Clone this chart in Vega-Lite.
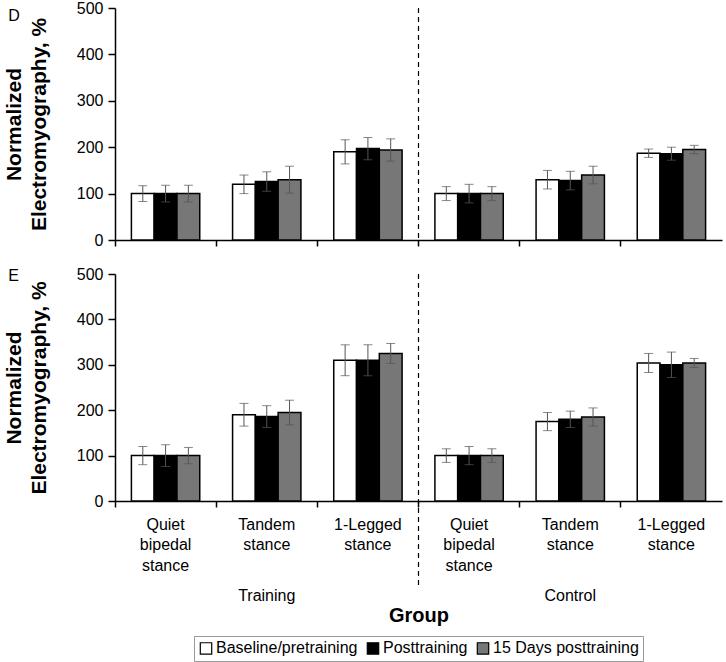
{
  "$schema": "https://vega.github.io/schema/vega-lite/v6.json",
  "padding": {"left": 3, "top": 0, "right": 3, "bottom": 0},
  "background": "white",
  "config": {
    "font": "Liberation Sans",
    "view": {"stroke": null},
    "axis": {"domainColor": "black", "tickColor": "black", "labelColor": "black", "titleColor": "black", "labelFontSize": 16, "labelFont": "Liberation Sans", "titleFont": "Liberation Sans", "grid": false, "domainWidth": 1.5, "tickWidth": 1.5},
    "concat": {"spacing": 18},
    "legend": {"labelFont": "Liberation Sans", "layout": {"bottom": {"anchor": "middle"}}}
  },
  "datasets": {
    "D": [
      {"cond": "Training|Quiet bipedal stance", "phase": "Baseline/pretraining", "value": 100, "lo": 83, "hi": 117},
      {"cond": "Training|Quiet bipedal stance", "phase": "Posttraining", "value": 100, "lo": 82, "hi": 118},
      {"cond": "Training|Quiet bipedal stance", "phase": "15 Days posttraining", "value": 100, "lo": 82, "hi": 118},
      {"cond": "Training|Tandem stance", "phase": "Baseline/pretraining", "value": 120, "lo": 100, "hi": 140},
      {"cond": "Training|Tandem stance", "phase": "Posttraining", "value": 126, "lo": 105, "hi": 147},
      {"cond": "Training|Tandem stance", "phase": "15 Days posttraining", "value": 130, "lo": 101, "hi": 159},
      {"cond": "Training|1-Legged stance", "phase": "Baseline/pretraining", "value": 190, "lo": 164, "hi": 216},
      {"cond": "Training|1-Legged stance", "phase": "Posttraining", "value": 197, "lo": 173, "hi": 221},
      {"cond": "Training|1-Legged stance", "phase": "15 Days posttraining", "value": 194, "lo": 170, "hi": 218},
      {"cond": "Control|Quiet bipedal stance", "phase": "Baseline/pretraining", "value": 100, "lo": 85, "hi": 115},
      {"cond": "Control|Quiet bipedal stance", "phase": "Posttraining", "value": 100, "lo": 80, "hi": 120},
      {"cond": "Control|Quiet bipedal stance", "phase": "15 Days posttraining", "value": 100, "lo": 85, "hi": 115},
      {"cond": "Control|Tandem stance", "phase": "Baseline/pretraining", "value": 130, "lo": 110, "hi": 150},
      {"cond": "Control|Tandem stance", "phase": "Posttraining", "value": 128, "lo": 108, "hi": 148},
      {"cond": "Control|Tandem stance", "phase": "15 Days posttraining", "value": 140, "lo": 121, "hi": 159},
      {"cond": "Control|1-Legged stance", "phase": "Baseline/pretraining", "value": 187, "lo": 178, "hi": 196},
      {"cond": "Control|1-Legged stance", "phase": "Posttraining", "value": 186, "lo": 172, "hi": 200},
      {"cond": "Control|1-Legged stance", "phase": "15 Days posttraining", "value": 195, "lo": 186, "hi": 204}
    ],
    "E": [
      {"cond": "Training|Quiet bipedal stance", "phase": "Baseline/pretraining", "value": 100, "lo": 80, "hi": 120},
      {"cond": "Training|Quiet bipedal stance", "phase": "Posttraining", "value": 100, "lo": 76, "hi": 124},
      {"cond": "Training|Quiet bipedal stance", "phase": "15 Days posttraining", "value": 100, "lo": 82, "hi": 118},
      {"cond": "Training|Tandem stance", "phase": "Baseline/pretraining", "value": 190, "lo": 165, "hi": 215},
      {"cond": "Training|Tandem stance", "phase": "Posttraining", "value": 186, "lo": 162, "hi": 210},
      {"cond": "Training|Tandem stance", "phase": "15 Days posttraining", "value": 195, "lo": 168, "hi": 222},
      {"cond": "Training|1-Legged stance", "phase": "Baseline/pretraining", "value": 310, "lo": 276, "hi": 344},
      {"cond": "Training|1-Legged stance", "phase": "Posttraining", "value": 310, "lo": 276, "hi": 344},
      {"cond": "Training|1-Legged stance", "phase": "15 Days posttraining", "value": 325, "lo": 303, "hi": 347},
      {"cond": "Control|Quiet bipedal stance", "phase": "Baseline/pretraining", "value": 100, "lo": 85, "hi": 115},
      {"cond": "Control|Quiet bipedal stance", "phase": "Posttraining", "value": 100, "lo": 80, "hi": 120},
      {"cond": "Control|Quiet bipedal stance", "phase": "15 Days posttraining", "value": 100, "lo": 85, "hi": 115},
      {"cond": "Control|Tandem stance", "phase": "Baseline/pretraining", "value": 175, "lo": 155, "hi": 195},
      {"cond": "Control|Tandem stance", "phase": "Posttraining", "value": 180, "lo": 162, "hi": 198},
      {"cond": "Control|Tandem stance", "phase": "15 Days posttraining", "value": 185, "lo": 165, "hi": 205},
      {"cond": "Control|1-Legged stance", "phase": "Baseline/pretraining", "value": 304, "lo": 283, "hi": 325},
      {"cond": "Control|1-Legged stance", "phase": "Posttraining", "value": 300, "lo": 272, "hi": 328},
      {"cond": "Control|1-Legged stance", "phase": "15 Days posttraining", "value": 304, "lo": 294, "hi": 314}
    ],
    "div": [{"grp": "Control"}]
  },
  "vconcat": [
    {
      "title": {"text": "D", "anchor": "start", "frame": "bounds", "fontSize": 16, "fontWeight": "normal", "font": "Liberation Sans", "offset": -24, "dx": 5},
      "width": 607,
      "height": 232,
      "layer": [
        {
          "data": {"name": "D"},
          "encoding": {
            "x": {"field": "cond", "type": "nominal", "sort": null, "scale": {"paddingInner": 0, "paddingOuter": 0}, "axis": {"labels": false, "title": null, "bandPosition": 0, "tickSize": 6}},
            "xOffset": {"field": "phase", "type": "nominal", "sort": ["Baseline/pretraining", "Posttraining", "15 Days posttraining"], "scale": {"paddingInner": 0, "paddingOuter": 0.72}}
          },
          "layer": [
            {
              "mark": {"type": "bar", "stroke": "black", "strokeWidth": 1.5},
              "encoding": {
                "y": {"field": "value", "type": "quantitative", "scale": {"domain": [0, 500]}, "axis": {"values": [0, 100, 200, 300, 400, 500], "title": ["Normalized", "Electromyography, %"], "titleFontSize": 21, "titleFontWeight": "bold", "titleLineHeight": 25, "titlePadding": 27, "tickSize": 7, "labelPadding": 5}},
                "fill": {"field": "phase", "type": "nominal", "sort": ["Baseline/pretraining", "Posttraining", "15 Days posttraining"], "scale": {"domain": ["Baseline/pretraining", "Posttraining", "15 Days posttraining"], "range": ["white", "black", "#777777"]}, "legend": {"orient": "bottom", "direction": "horizontal", "title": null, "labelFontSize": 16, "symbolType": "square", "symbolSize": 130, "symbolStrokeColor": "black", "symbolStrokeWidth": 1.2, "labelOffset": 2, "columnPadding": 6, "strokeColor": "#999999", "padding": 4, "offset": 11}}
              }
            },
            {
              "mark": {"type": "rule", "color": "#555555", "strokeWidth": 1},
              "encoding": {"y": {"field": "lo", "type": "quantitative"}, "y2": {"field": "hi"}}
            },
            {
              "mark": {"type": "tick", "color": "#555555", "thickness": 1, "size": 9},
              "encoding": {"y": {"field": "lo", "type": "quantitative"}}
            },
            {
              "mark": {"type": "tick", "color": "#555555", "thickness": 1, "size": 9},
              "encoding": {"y": {"field": "hi", "type": "quantitative"}}
            }
          ]
        },
        {
          "data": {"name": "div"},
          "mark": {"type": "rule", "color": "black", "strokeDash": [5, 4], "strokeWidth": 1.2},
          "encoding": {
            "x": {"field": "grp", "type": "nominal", "bandPosition": 0, "scale": {"domain": ["Training", "Control"], "paddingInner": 0, "paddingOuter": 0}, "axis": null},
            "y": {"datum": 500},
            "y2": {"datum": 0}
          }
        }
      ],
      "resolve": {"scale": {"x": "independent"}, "axis": {"x": "independent"}}
    },
    {
      "title": {"text": "E", "anchor": "start", "frame": "bounds", "fontSize": 16, "fontWeight": "normal", "font": "Liberation Sans", "offset": -18, "dx": 5},
      "width": 607,
      "height": 227,
      "layer": [
        {
          "data": {"name": "E"},
          "encoding": {
            "x": {"field": "cond", "type": "nominal", "sort": null, "scale": {"paddingInner": 0, "paddingOuter": 0}, "axis": {"title": null, "bandPosition": 0, "tickSize": 6, "labelAngle": 0, "labelPadding": 9, "labelLineHeight": 20.5, "labelExpr": "split(split(datum.label, '|')[1], ' ')"}},
            "xOffset": {"field": "phase", "type": "nominal", "sort": ["Baseline/pretraining", "Posttraining", "15 Days posttraining"], "scale": {"paddingInner": 0, "paddingOuter": 0.72}}
          },
          "layer": [
            {
              "mark": {"type": "bar", "stroke": "black", "strokeWidth": 1.5},
              "encoding": {
                "y": {"field": "value", "type": "quantitative", "scale": {"domain": [0, 500]}, "axis": {"values": [0, 100, 200, 300, 400, 500], "title": ["Normalized", "Electromyography, %"], "titleFontSize": 21, "titleFontWeight": "bold", "titleLineHeight": 25, "titlePadding": 27, "tickSize": 7, "labelPadding": 5}},
                "fill": {"field": "phase", "type": "nominal", "sort": ["Baseline/pretraining", "Posttraining", "15 Days posttraining"], "scale": {"domain": ["Baseline/pretraining", "Posttraining", "15 Days posttraining"], "range": ["white", "black", "#777777"]}}
              }
            },
            {
              "mark": {"type": "rule", "color": "#555555", "strokeWidth": 1},
              "encoding": {"y": {"field": "lo", "type": "quantitative"}, "y2": {"field": "hi"}}
            },
            {
              "mark": {"type": "tick", "color": "#555555", "thickness": 1, "size": 9},
              "encoding": {"y": {"field": "lo", "type": "quantitative"}}
            },
            {
              "mark": {"type": "tick", "color": "#555555", "thickness": 1, "size": 9},
              "encoding": {"y": {"field": "hi", "type": "quantitative"}}
            }
          ]
        },
        {
          "data": {"name": "div"},
          "mark": {"type": "rule", "color": "black", "strokeDash": [5, 4], "strokeWidth": 1.2},
          "encoding": {
            "x": {"field": "grp", "type": "nominal", "bandPosition": 0, "scale": {"domain": ["Training", "Control"], "paddingInner": 0, "paddingOuter": 0}, "axis": {"orient": "bottom", "offset": 84, "domain": false, "ticks": false, "labelPadding": 2, "labelFontSize": 16, "labelAngle": 0, "title": "Group", "titleFontSize": 20, "titleFontWeight": "bold", "titlePadding": 2}},
            "y": {"datum": 500, "scale": {"domain": [0, 500]}},
            "y2": {"datum": -194}
          }
        }
      ],
      "resolve": {"scale": {"x": "independent"}, "axis": {"x": "independent"}}
    }
  ]
}
